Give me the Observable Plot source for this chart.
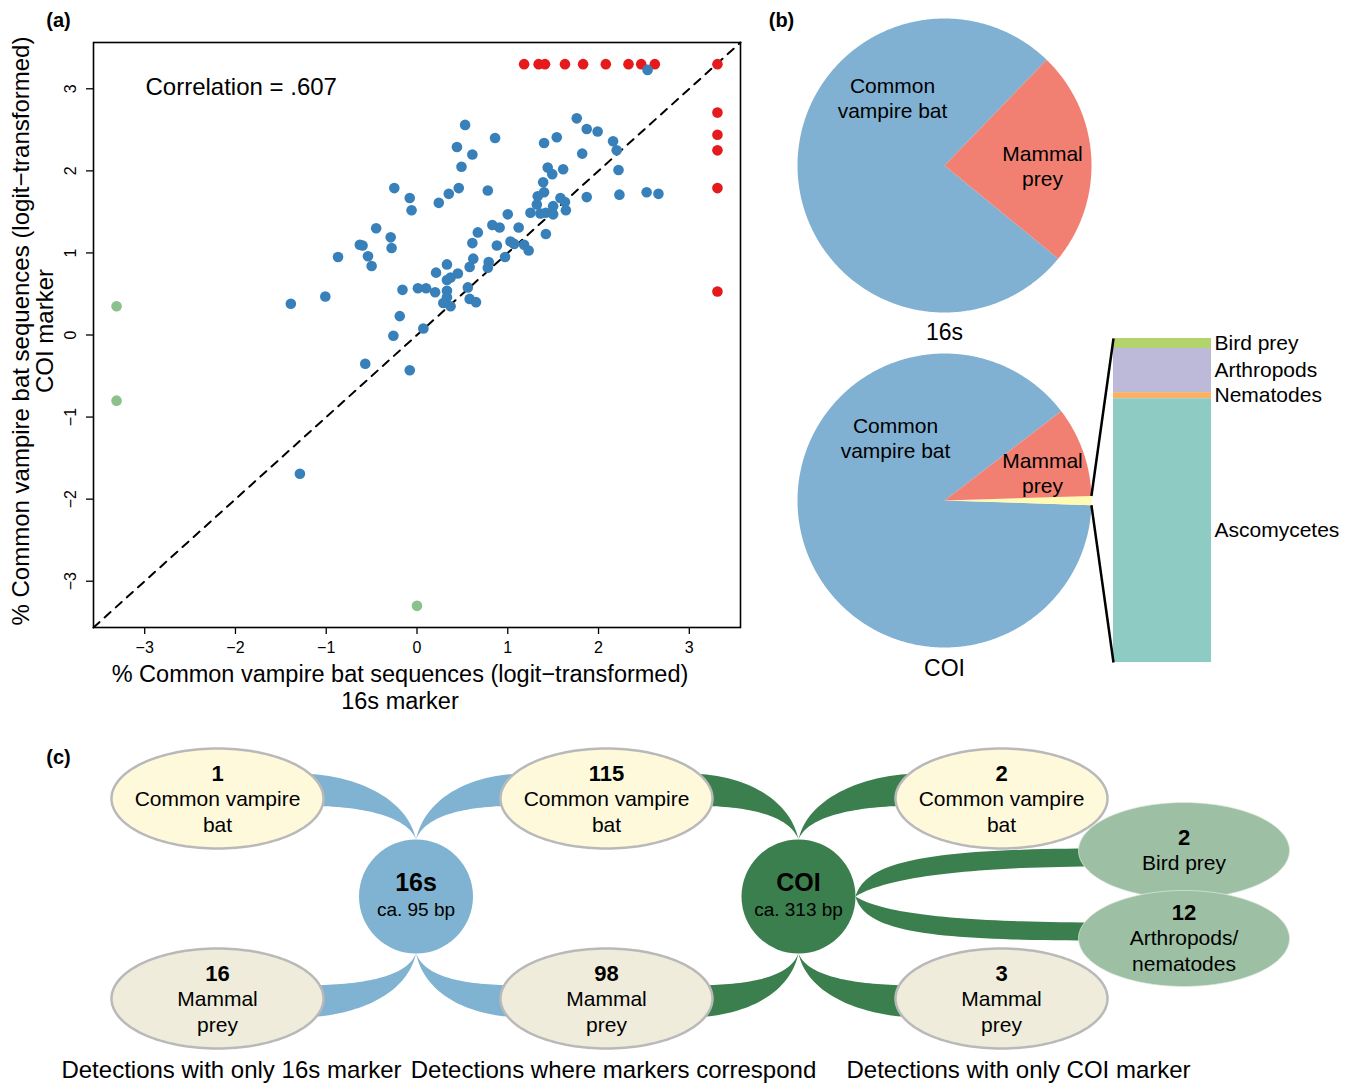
<!DOCTYPE html>
<html><head><meta charset="utf-8">
<script src="https://cdn.jsdelivr.net/npm/d3@7"></script>
<script src="https://cdn.jsdelivr.net/npm/@observablehq/plot@0.6"></script>
<style>
body{margin:0;background:#fff;}
#wrap{position:relative;width:1352px;height:1084px;overflow:hidden;background:#fff;}
#wrap svg{position:absolute;left:0;top:0;}
</style></head><body><div id="wrap"></div>
<script>
// ---------------- Panel (a) data ----------------
const blueX = [2.54,1.76,1.87,1.99,2.16,2.20,1.82,1.40,1.54,0.53,0.86,0.44,0.61,0.49,0.46,0.35,0.24,0.78,-0.08,-0.06,-0.25,1.44,1.49,1.61,1.39,1.40,1.33,1.32,1.58,1.63,1.64,1.50,1.50,1.42,1.36,1.25,1.87,2.22,2.23,2.53,2.66,1.00,0.83,0.91,1.12,1.42,0.67,0.61,0.88,1.03,1.07,1.18,1.23,0.97,0.62,0.58,0.79,0.78,0.33,0.21,0.45,0.37,0.33,0.01,0.10,0.33,0.20,0.33,0.56,0.29,0.37,0.58,0.65,0.07,-0.16,-0.19,-0.26,-0.57,-0.08,-1.29,-1.39,-1.01,-0.87,-0.54,-0.50,-0.28,-0.29,-0.45,-0.60,-0.63];
const blueY = [3.23,2.64,2.51,2.48,2.36,2.25,2.21,2.34,2.41,2.56,2.40,2.29,2.20,2.05,1.79,1.72,1.61,1.76,1.67,1.52,1.79,2.04,1.96,2.02,1.86,1.74,1.69,1.59,1.67,1.62,1.52,1.57,1.47,1.49,1.48,1.49,1.68,2.01,1.71,1.74,1.72,1.47,1.34,1.31,1.31,1.23,1.25,1.12,1.09,1.14,1.11,1.10,1.03,0.95,0.93,0.83,0.89,0.82,0.86,0.76,0.75,0.70,0.67,0.57,0.57,0.54,0.52,0.46,0.58,0.39,0.35,0.44,0.40,0.08,0.55,0.23,-0.01,-0.35,-0.43,-1.69,0.38,0.47,0.95,0.96,0.84,1.06,1.19,1.30,1.09,1.10];
const redX = [1.18,1.34,1.41,1.63,1.83,2.08,2.33,2.47,2.62,3.31,3.31,3.31,3.31,3.31,3.31];
const redY = [3.30,3.30,3.30,3.30,3.30,3.30,3.30,3.30,3.30,3.30,2.71,2.44,2.25,1.79,0.53];
const greenX = [-3.31,-3.31,0.00];
const greenY = [0.35,-0.80,-3.30];
const axisTicks = [-3,-2,-1,0,1,2,3];
const correlationLabel = "Correlation = .607";
const xTitle = "% Common vampire bat sequences (logit\u2212transformed)\n16s marker";
const yTitle = "% Common vampire bat sequences (logit\u2212transformed)\nCOI marker";

// ---------------- Panel (b) data ----------------
const pieCategories = ["Common vampire bat", "Mammal prey", "Other"];
const pieColors = ["#80B1D3", "#F28072", "#FFFBB3"];
const pie16sValues = [76.3, 23.7];          // bat, mammal prey
const pieCOIValues = [89.1, 1.0, 9.9];      // bat, other, mammal prey
const pieCOIOrder = [0, 2, 1];
const otherCategories = ["Bird prey", "Arthropods", "Nematodes", "Ascomycetes"];
const otherValues = [3.1, 13.6, 1.9, 81.4];
const otherColors = ["#B3D36C", "#BDB9D9", "#F9B264", "#8ECBC2"];

// ---------------- Panel (c) data ----------------
const markerNames = ["16s", "COI"];
const markerLengths = ["ca. 95 bp", "ca. 313 bp"];
const detectionGroups = ["Detections with only 16s marker", "Detections where markers correspond", "Detections with only COI marker"];
const detectionCounts = [1, 16, 115, 98, 2, 3, 2, 12];
const detectionLabels = ["Common vampire\nbat", "Mammal\nprey", "Common vampire\nbat", "Mammal\nprey", "Common vampire\nbat", "Mammal\nprey", "Bird prey", "Arthropods/\nnematodes"];
const detectionGroupIndex = [0, 0, 1, 1, 2, 2, 2, 2];
const detectionMarkers = [[0], [0], [0, 1], [0, 1], [1], [1], [1], [1]];
const detectionKind = ["bat", "mammal", "bat", "mammal", "bat", "mammal", "bird", "arthropod"];

// ---------------- layout / style ----------------
const FONT = "'Liberation Sans', Arial, Helvetica, sans-serif";
const fmt = d => (d < 0 ? "\u2212" + Math.abs(d) : String(d));
const lim = 3.564;
const pts = (xs, ys) => xs.map((x, i) => ({x, y: ys[i]}));

const scatter = Plot.plot({
  width: 760, height: 720,
  marginLeft: 93, marginRight: 20, marginTop: 42, marginBottom: 93,
  style: {background: "transparent", fontFamily: FONT, color: "black", overflow: "visible"},
  x: {domain: [-lim, lim]},
  y: {domain: [-lim, lim]},
  marks: [
    Plot.axisX(axisTicks, {tickSize: 7, tickPadding: 7, tickFormat: fmt, fontSize: 16, label: null, strokeWidth: 1.3}),
    Plot.axisY(axisTicks, {tickSize: 7, tickFormat: () => "", label: null, strokeWidth: 1.3}),
    Plot.text(axisTicks, {y: d => d, text: fmt, frameAnchor: "left", textAnchor: "middle", lineAnchor: "middle", dx: -23, rotate: -90, fontSize: 16}),
    Plot.line([-lim, lim], {x: d => d, y: d => d, stroke: "black", strokeWidth: 2, strokeDasharray: "8,7"}),
    Plot.dot(pts(redX, redY), {x: "x", y: "y", r: 5.3, fill: "#E41A1C"}),
    Plot.dot(pts(blueX, blueY), {x: "x", y: "y", r: 5.3, fill: "#3780BA"}),
    Plot.dot(pts(greenX, greenY), {x: "x", y: "y", r: 5.3, fill: "#8CC08C"}),
    Plot.frame({stroke: "black", strokeWidth: 1.6}),
    Plot.text([correlationLabel], {text: d => d, frameAnchor: "top-left", textAnchor: "start", lineAnchor: "middle", dx: 52, dy: 45, fontSize: 24}),
    Plot.text([xTitle], {text: d => d, frameAnchor: "bottom", textAnchor: "middle", lineAnchor: "middle", dx: -17, dy: 59, fontSize: 23.5, lineHeight: 1.18}),
    Plot.text([yTitle], {text: d => d, frameAnchor: "left", textAnchor: "middle", lineAnchor: "middle", dx: -60, dy: -4, rotate: -90, fontSize: 24, lineHeight: 0.98})
  ]
});

// ---------------- canvas for (b), (c) ----------------
const W = 1352, H = 1084;

function arcPoly(id, cx, cy, r, a0, a1, fill) {
  const out = [{id, fill, x: cx, y: cy}];
  const n = Math.max(2, Math.ceil(Math.abs(a1 - a0) / 0.5));
  for (let k = 0; k <= n; k++) {
    const a = (a0 + (a1 - a0) * k / n) * Math.PI / 180;
    out.push({id, fill, x: cx + r * Math.cos(a), y: cy - r * Math.sin(a)});
  }
  return out;
}
function pieSlices(prefix, values, order, cx, cy, r, startDeg) {
  const total = d3.sum(values);
  let a = startDeg; const polys = []; const edges = [];
  values.forEach((v, i) => {
    const sweep = v / total * 360;
    polys.push(...arcPoly(prefix + i, cx, cy, r, a, a + sweep, pieColors[order[i]]));
    edges.push([a, a + sweep]);
    a += sweep;
  });
  return {polys, edges};
}
const pieR = 147, pieCx = 944;
const pie16 = pieSlices("p16_", pie16sValues, [0, 1], pieCx, 165, pieR, 46);
const pieCOI = pieSlices("pcoi_", pieCOIValues, pieCOIOrder, pieCx, 500, pieR, 37.4);

const bar = {x1: 1113, x2: 1211, top: 338, bottom: 662};
const otherTotal = d3.sum(otherValues);
let cum = 0;
const barSegs = otherValues.map((v, i) => {
  const y1 = bar.top + cum / otherTotal * (bar.bottom - bar.top);
  cum += v;
  const y2 = bar.top + cum / otherTotal * (bar.bottom - bar.top);
  return {name: otherCategories[i], fill: otherColors[i], y1, y2};
});
const otherEdge = pieCOI.edges[1];
const edgePt = a => ({x: pieCx + pieR * Math.cos(a * Math.PI / 180), y: 500 - pieR * Math.sin(a * Math.PI / 180)});
const zoomLinks = [
  {a: edgePt(otherEdge[1]), b: {x: bar.x1, y: bar.top}},
  {a: edgePt(otherEdge[0]), b: {x: bar.x1, y: bar.bottom}}
];

const markerX = [415.5, 798], markerY = 896, markerR = 57;
const markerFill = ["#7FB3D1", "#3B7F4E"];
const colX = [217, 606, 1001];
const kindStyle = {
  bat:       {dy: 798, fill: "#FFF9DC", stroke: "#B9B9B9", rx: 106, ry: 50, slot: "top"},
  mammal:    {dy: 998, fill: "#EFECDB", stroke: "#B9B9B9", rx: 106, ry: 50, slot: "bottom"},
  bird:      {dy: 850, fill: "#9DC0A4", stroke: null, rx: 105.5, ry: 48, slot: "side", cx: 1183.5},
  arthropod: {dy: 938, fill: "#9DC0A4", stroke: null, rx: 105.5, ry: 48, slot: "side", cx: 1183.5}
};
const nodes = detectionCounts.map((count, i) => {
  const st = kindStyle[detectionKind[i]];
  return {i, count, label: detectionLabels[i], x: st.cx ?? colX[detectionGroupIndex[i]], y: st.dy, ...st};
});
function ellipsePoly(id, cx, cy, rx, ry, fill) {
  const out = [];
  for (let k = 0; k < 144; k++) {
    const a = k / 144 * 2 * Math.PI;
    out.push({id, fill, x: cx + rx * Math.cos(a), y: cy + ry * Math.sin(a)});
  }
  return out;
}
function cubic(p0, c1, c2, p3, n = 40) {
  const out = [];
  for (let k = 0; k <= n; k++) {
    const t = k / n, u = 1 - t;
    out.push([u*u*u*p0[0] + 3*u*u*t*c1[0] + 3*u*t*t*c2[0] + t*t*t*p3[0],
              u*u*u*p0[1] + 3*u*u*t*c1[1] + 3*u*t*t*c2[1] + t*t*t*p3[1]]);
  }
  return out;
}
function bandPoly(id, mi, n) {
  const mx = markerX[mi], fill = markerFill[mi];
  let outer, inner;
  if (n.slot === "side") {
    const s = n.y < markerY ? -1 : 1;
    const A = [mx + markerR, markerY];
    const xe = n.x - (n.rx - 25);
    const yo = n.y + s * 2, yi = n.y - s * 16;
    outer = cubic(A, [A[0] + 10, A[1] + s * 36], [A[0] + 75, yo], [xe, yo]);
    inner = cubic(A, [A[0] + 25, A[1] + s * 16], [A[0] + 95, yi], [xe, yi]);
  } else {
    const d = Math.sign(n.x - mx);
    const s = n.slot === "top" ? -1 : 1;
    const A = [mx, markerY + s * markerR];
    const xe = n.x - d * (n.rx - 25);
    const yo = n.slot === "top" ? n.y - 25 : n.y + 19;
    const yi = n.slot === "top" ? n.y + 7 : n.y - 13;
    outer = cubic(A, [A[0] + d * 10, A[1] + s * 45], [xe - d * 50, yo], [xe, yo]);
    inner = cubic(A, [A[0] + d * 10, A[1] + s * 25], [xe - d * 60, yi], [xe, yi]);
  }
  return outer.concat(inner.reverse()).map(([x, y]) => ({id, fill, x, y}));
}
const bands = [];
nodes.forEach(n => detectionMarkers[n.i].forEach(mi => bands.push(...bandPoly("b" + n.i + "_" + mi, mi, n))));
const strokedEllipses = nodes.filter(n => n.stroke).flatMap(n => ellipsePoly("e" + n.i, n.x, n.y, n.rx, n.ry, n.fill));
const greenEllipses = nodes.filter(n => !n.stroke).flatMap(n => ellipsePoly("g" + n.i, n.x, n.y, n.rx, n.ry, n.fill));
const LH = 26;
const nodeTexts = [];
nodes.forEach(n => {
  const lines = n.label.split("\n");
  const k = lines.length + 1;
  const c = n.slot === "side" ? n.y : n.y + 1;
  nodeTexts.push({x: n.x, y: c - (k - 1) / 2 * LH, text: String(n.count), bold: true});
  lines.forEach((t, j) => nodeTexts.push({x: n.x, y: c + (j + 1 - (k - 1) / 2) * LH, text: t, bold: false}));
});
const markers = markerNames.map((name, i) => ({x: markerX[i], y: markerY, name, len: markerLengths[i], fill: markerFill[i]}));
const captionX = [231, 613, 1018];
const captions = detectionGroups.map((t, i) => ({x: captionX[i], y: 1070, text: t}));
const pieTexts = [
  {x: 892, y: 97, text: "Common\nvampire bat"}, {x: 1042, y: 165, text: "Mammal\nprey"},
  {x: 895, y: 437, text: "Common\nvampire bat"}, {x: 1042, y: 472, text: "Mammal\nprey"}
];
const pieTitles = [{x: pieCx, y: 332, text: "16s"}, {x: pieCx, y: 668, text: "COI"}];
const panelLabels = [{x: 58, y: 20, text: "(a)"}, {x: 781, y: 20, text: "(b)"}, {x: 58, y: 757, text: "(c)"}];

const diagram = Plot.plot({
  width: W, height: H, margin: 0,
  x: {domain: [0, W], range: [0, W], axis: null},
  y: {domain: [0, H], range: [0, H], axis: null},
  color: {type: "identity"},
  style: {fontFamily: FONT, background: "white", color: "black"},
  marks: [
    Plot.line(pie16.polys, {x: "x", y: "y", z: "id", fill: "fill", stroke: "none", curve: "linear-closed"}),
    Plot.line(pieCOI.polys, {x: "x", y: "y", z: "id", fill: "fill", stroke: "none", curve: "linear-closed"}),
    Plot.rect(barSegs, {x1: () => bar.x1, x2: () => bar.x2, y1: "y1", y2: "y2", fill: "fill"}),
    Plot.link(zoomLinks, {x1: d => d.a.x, y1: d => d.a.y, x2: d => d.b.x, y2: d => d.b.y, stroke: "black", strokeWidth: 2.5}),
    Plot.text(barSegs, {x: () => bar.x2 + 3, y: d => (d.y1 + d.y2) / 2, text: "name", textAnchor: "start", fontSize: 21}),
    Plot.text(pieTexts, {x: "x", y: "y", text: "text", fontSize: 21, lineHeight: 1.2}),
    Plot.text(pieTitles, {x: "x", y: "y", text: "text", fontSize: 23}),
    Plot.line(bands, {x: "x", y: "y", z: "id", fill: "fill", stroke: "none", curve: "linear-closed"}),
    Plot.line(strokedEllipses, {x: "x", y: "y", z: "id", fill: "fill", stroke: "#B9B9B9", strokeWidth: 2.5, curve: "linear-closed"}),
    Plot.line(greenEllipses, {x: "x", y: "y", z: "id", fill: "fill", stroke: "#dfeae0", strokeWidth: 1, strokeOpacity: 0.7, curve: "linear-closed"}),
    Plot.dot(markers, {x: "x", y: "y", r: markerR, fill: "fill", stroke: "none"}),
    Plot.text(markers, {x: "x", y: d => d.y - 14, text: "name", fontSize: 25, fontWeight: "bold"}),
    Plot.text(markers, {x: "x", y: d => d.y + 13, text: "len", fontSize: 19}),
    Plot.text(nodeTexts.filter(d => d.bold), {x: "x", y: "y", text: "text", fontSize: 22, fontWeight: "bold"}),
    Plot.text(nodeTexts.filter(d => !d.bold), {x: "x", y: "y", text: "text", fontSize: 21}),
    Plot.text(captions, {x: "x", y: "y", text: "text", fontSize: 24}),
    Plot.text(panelLabels, {x: "x", y: "y", text: "text", fontSize: 20, fontWeight: "bold"})
  ]
});

const wrap = document.getElementById("wrap");
wrap.appendChild(diagram);
wrap.appendChild(scatter);
</script>
</body></html>
